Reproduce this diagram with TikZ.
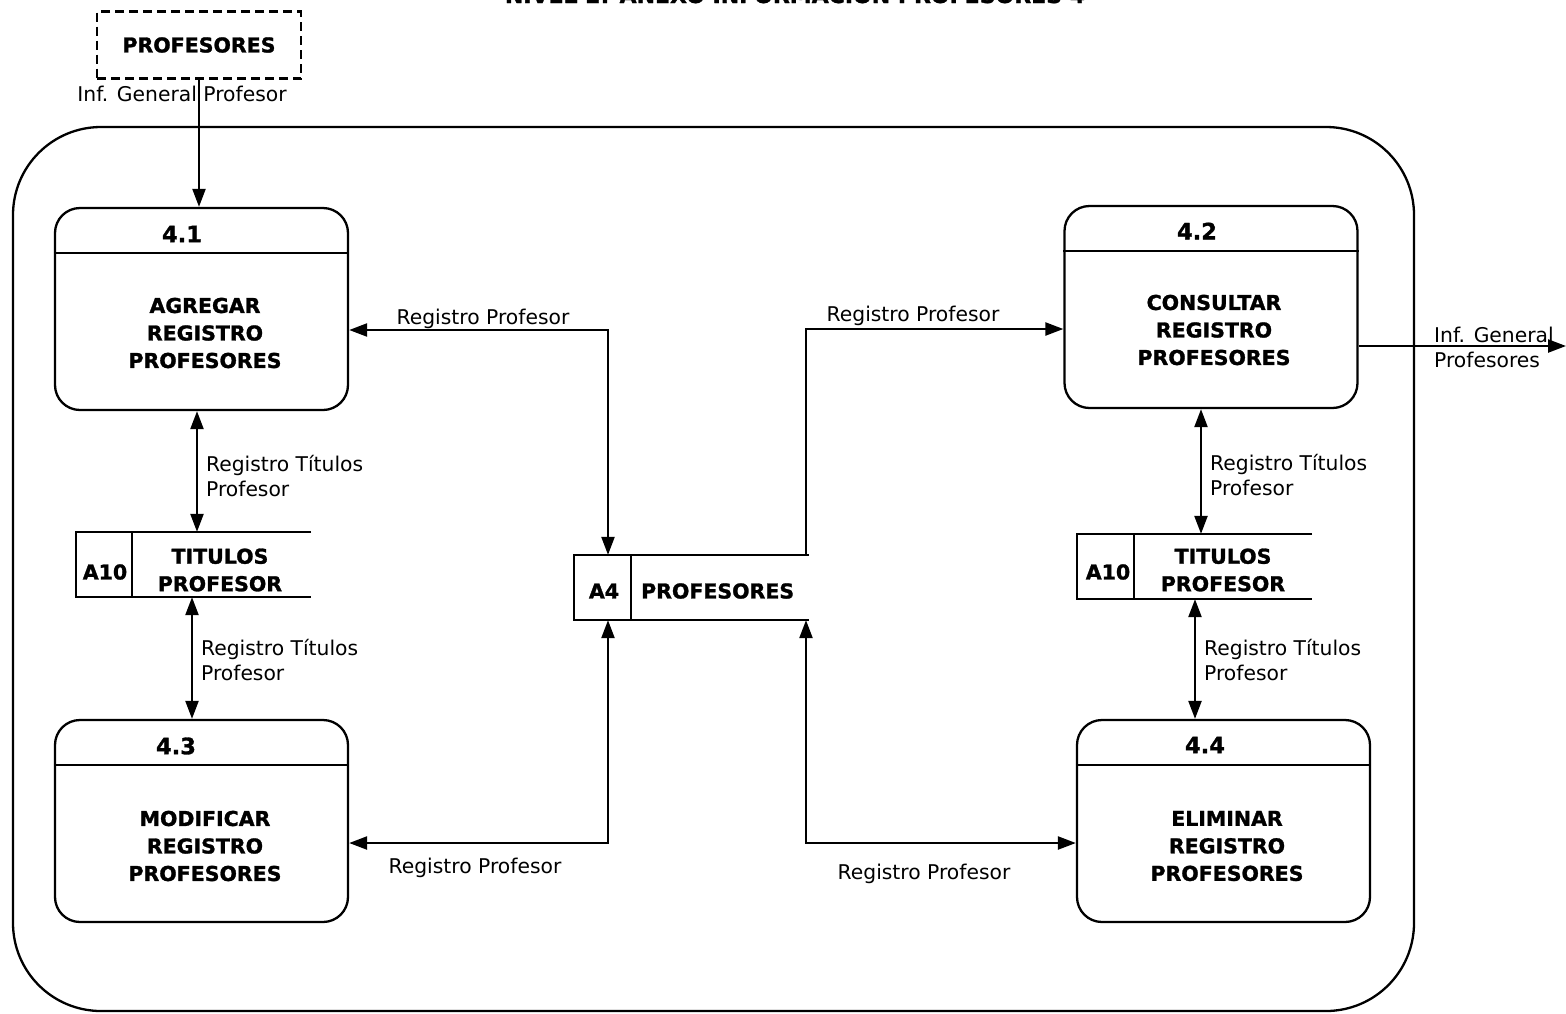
\documentclass[tikz,border=0pt]{standalone}
\usepackage{fontspec}
\setmainfont{DejaVu Sans}[BoldFeatures={FakeBold=1.3}]
\usetikzlibrary{arrows.meta}
\tikzset{
  proc/.style={draw, rounded corners=25pt, minimum width=293pt, minimum height=202pt, inner sep=0pt},
  storebox/.style={minimum width=233pt, minimum height=63pt, inner sep=0pt},
  numtxt/.style={font=\bfseries\fontsize{22.5}{26}\selectfont},
  bigtxt/.style={font=\bfseries\fontsize{20.5}{27.5}\selectfont, align=center},
  lbl/.style={font=\fontsize{20.3}{25}\selectfont, inner sep=0pt},
  lbll/.style={font=\fontsize{20.3}{25}\selectfont, align=left, anchor=west, inner sep=0pt},
  arr/.style={-{Triangle[length=18pt,width=13pt]}},
  darr/.style={{Triangle[length=18pt,width=13pt]}-{Triangle[length=18pt,width=13pt]}}
}
\begin{document}
\begin{tikzpicture}[x=1pt,y=-1pt,line width=2.3pt]
\useasboundingbox (0,0) rectangle (1566,1013);

% title (cut off at the top)
\node[font=\bfseries\fontsize{22}{26}\selectfont, anchor=base, inner sep=0pt] (title) at (795,3) {NIVEL 2: ANEXO INFORMACION PROFESORES 4};

% outer boundary
\draw[rounded corners=88pt] (13,127) rectangle (1414,1011);

% external entity
\node[draw, dash pattern=on 9pt off 5pt, minimum width=204pt, minimum height=67pt, inner sep=0pt,
      font=\bfseries\fontsize{20.5}{25}\selectfont] (ent) at (199,45) {PROFESORES};

% processes
\node[proc] (p41) at (201.5,309) {};
\node[proc] (p42) at (1211,307) {};
\node[proc] (p43) at (201.5,821) {};
\node[proc] (p44) at (1223.5,821) {};
\foreach \p in {p41,p42,p43,p44}{
  \draw ([yshift=-46pt]\p.north west) -- ([yshift=-46pt]\p.north east);
}
\node[numtxt] (n41) at (182,234) {4.1};
\node[numtxt] (n42) at (1197,231) {4.2};
\node[numtxt] (n43) at (176,746) {4.3};
\node[numtxt] (n44) at (1205,745) {4.4};
\node[bigtxt] (t41) at (205,333) {AGREGAR\\REGISTRO\\PROFESORES};
\node[bigtxt] (t42) at (1214,330) {CONSULTAR\\REGISTRO\\PROFESORES};
\node[bigtxt] (t43) at (205,846) {MODIFICAR\\REGISTRO\\PROFESORES};
\node[bigtxt] (t44) at (1227,846) {ELIMINAR\\REGISTRO\\PROFESORES};

% data stores
\node[storebox] (s1) at (193.5,564.5) {};
\node[storebox] (s2) at (1194.5,566.5) {};
\node[storebox] (s4) at (691.5,587.5) {};
\draw (s1.north east) -- (s1.north west) -- (s1.south west) -- (s1.south east);
\draw ([xshift=56pt]s1.north west) -- ([xshift=56pt]s1.south west);
\draw (s2.north east) -- (s2.north west) -- (s2.south west) -- (s2.south east);
\draw ([xshift=57pt]s2.north west) -- ([xshift=57pt]s2.south west);
\draw (s4.north east) -- (s4.north west) -- (s4.south west) -- (s4.south east);
\draw ([xshift=57pt]s4.north west) -- ([xshift=57pt]s4.south west);
\node[bigtxt] (s1id) at (105,572) {A10};
\node[bigtxt] (s1t) at (220,570) {TITULOS\\PROFESOR};
\node[bigtxt] (s2id) at (1108,572) {A10};
\node[bigtxt] (s2t) at (1223,570) {TITULOS\\PROFESOR};
\node[bigtxt] (s4id) at (604,591) {A4};
\node[bigtxt, anchor=west, inner sep=0pt] (s4t) at (640,591) {PROFESORES};

% helper coordinates
\coordinate (j1) at (608,330);
\coordinate (j2) at (806,329);
\coordinate (j3) at (608,843);
\coordinate (j4) at (806,843);
\coordinate (o1) at (1566,346);
\coordinate (v1) at (197,0);
\coordinate (v2) at (192,0);
\coordinate (v3) at (1201,0);
\coordinate (v4) at (1195,0);

% connectors
\draw[arr] (ent.south) -- (ent.south |- p41.north);
\draw[darr] (p41.east |- j1) -- (j1) -- (s4.north -| j1);
\draw[arr] (s4.north -| j2) -- (j2) -- (p42.west |- j2);
\draw[arr] (p42.east |- o1) -- (o1);
\draw[darr] (p41.south -| v1) -- (s1.north -| v1);
\draw[darr] (s1.south -| v2) -- (p43.north -| v2);
\draw[darr] (p42.south -| v3) -- (s2.north -| v3);
\draw[darr] (s2.south -| v4) -- (p44.north -| v4);
\draw[darr] (p43.east |- j3) -- (j3) -- (s4.south -| j3);
\draw[darr] (s4.south -| j4) -- (j4) -- (p44.west |- j4);

% labels
\node[lbl] (l1) at (483,319) {Registro Profesor};
\node[lbl] (l2) at (913,316) {Registro Profesor};
\node[lbl] (l3) at (475,868) {Registro Profesor};
\node[lbl] (l4) at (924,874) {Registro Profesor};
\node[lbl] (l5) at (182,94) {Inf. General Profesor};
\node[lbll] (l6) at (1433,347) {Inf. General\\Profesores};
\node[lbll] (l7) at (205,476) {Registro Títulos\\Profesor};
\node[lbll] (l8) at (200,660) {Registro Títulos\\Profesor};
\node[lbll] (l9) at (1209,475) {Registro Títulos\\Profesor};
\node[lbll] (l10) at (1203,660) {Registro Títulos\\Profesor};
\end{tikzpicture}
\end{document}
